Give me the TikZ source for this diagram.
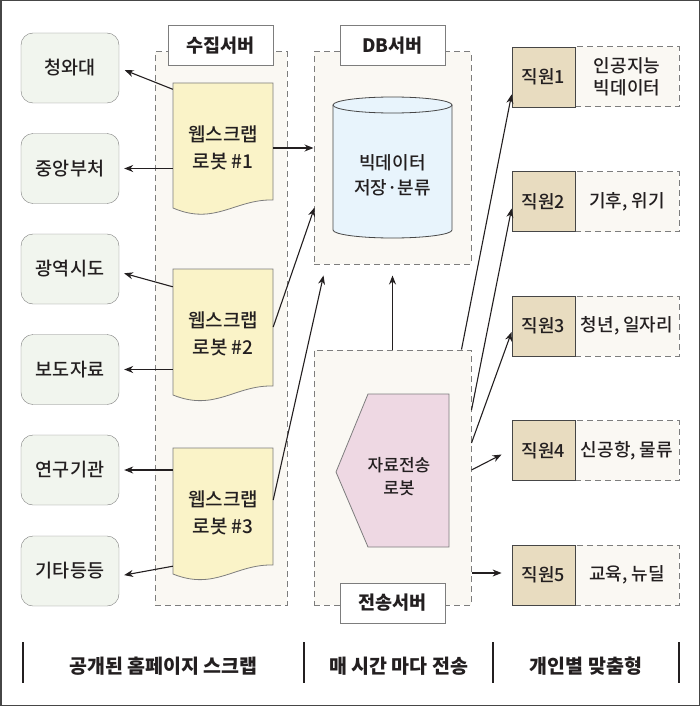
\documentclass[tikz,border=0pt]{standalone}
\usepackage{fontspec}
\setmainfont{Noto Sans CJK KR}[UprightFont={* Medium}, BoldFont={* Black}]
\usetikzlibrary{calc}
\usetikzlibrary{arrows.meta}
\usetikzlibrary{positioning}
\definecolor{framegray}{RGB}{70, 70, 70}
\definecolor{boxgray}{RGB}{125, 125, 125}
\definecolor{inkblack}{RGB}{35, 31, 32}
\definecolor{sitegreen}{RGB}{241, 245, 238}
\definecolor{paperyellow}{RGB}{250, 243, 200}
\definecolor{servercream}{RGB}{250, 248, 243}
\definecolor{dbblue}{RGB}{232, 244, 252}
\definecolor{botpink}{RGB}{238, 216, 227}
\definecolor{stafftan}{RGB}{232, 220, 192}
\tikzset{
  site/.style={draw=boxgray, fill=sitegreen, rounded corners=12pt, minimum width=98pt,
               minimum height=70pt, text=inkblack, font=\fontsize{18.5pt}{22pt}\selectfont},
  server/.style={draw=boxgray, line width=1pt, dash pattern=on 6pt off 4pt, fill=servercream},
  tag/.style={draw=boxgray, line width=1pt, fill=white, minimum width=105pt, minimum height=40pt,
              text=inkblack, font=\bfseries\fontsize{18.5pt}{22pt}\selectfont},
  paper/.style={draw=boxgray, fill=paperyellow, line width=0.8pt},
  robot/.style={minimum width=100pt, minimum height=117pt, inner sep=0pt, align=center,
                text=inkblack, font=\fontsize{19pt}{27pt}\selectfont},
  staff/.style={draw=framegray, fill=stafftan, line width=0.8pt, minimum width=63pt,
                minimum height=60pt, text=inkblack, font=\fontsize{18pt}{22pt}\selectfont},
  topic/.style={draw=boxgray, line width=1pt, dash pattern=on 6pt off 4pt, fill=servercream,
                minimum width=104pt, minimum height=60pt, align=center, text=inkblack,
                font=\fontsize{18pt}{22pt}\selectfont},
  link/.style={draw=inkblack, line width=1.1pt, -{Stealth[length=9pt, width=7pt]}},
  caption/.style={text=inkblack, font=\bfseries\fontsize{19.5pt}{22pt}\selectfont},
  sep/.style={draw=inkblack, line width=1.8pt}
}

\begin{document}
\begin{tikzpicture}[x=1pt, y=-1pt]
            % Frame to fix the page
            \useasboundingbox                                                 (0, 0) rectangle (700, 706);
            \draw[framegray, line width=1.5pt]                                (0.75, 0.75) rectangle (699.25, 705.25);
            % Servers
            \node[server, minimum width=132pt, minimum height=553pt] (collect) at (221.0, 328.5) {};
            \node[server, minimum width=157pt, minimum height=212pt] (dbsrv)   at (392.5, 158.0) {};
            \node[server, minimum width=157pt, minimum height=255pt] (sendsrv) at (392.5, 477.5) {};
            \node[tag] (collecttag) at (220.5,  46.0) {수집서버};
            \node[tag] (dbtag)      at (392.5,  46.0) {DB서버};
            \node[tag] (sendtag)    at (392.5, 603.0) {전송서버};
            % Public homepages
            \node[site] (cheong)  at (70,  68.0) {청와대};
            \node[site] (jungang) at (70, 168.5) {중앙부처};
            \node[site] (gwang)   at (70, 269.0) {광역시도};
            \node[site] (bodo)    at (70, 369.5) {보도자료};
            \node[site] (yeongu)  at (70, 470.0) {연구기관};
            \node[site] (gita)    at (70, 571.0) {기타등등};
            % Scrap robots
            \filldraw[paper] (173,  83) -- (273,  83) -- (273, 200) .. controls (235, 199) and (215, 226) .. (173, 208) -- cycle;
            \filldraw[paper] (173, 269) -- (273, 269) -- (273, 386) .. controls (235, 385) and (215, 412) .. (173, 395) -- cycle;
            \filldraw[paper] (173, 448) -- (273, 448) -- (273, 565) .. controls (235, 564) and (215, 591) .. (173, 574) -- cycle;
            \node[robot] (robot1) at (223, 148) {웹스크랩\\로봇 \#1};
            \node[robot] (robot2) at (223, 334) {웹스크랩\\로봇 \#2};
            \node[robot] (robot3) at (223, 513) {웹스크랩\\로봇 \#3};
            % Big data cylinder
            \filldraw[draw=framegray, fill=dbblue, line width=0.8pt]
                 (333, 105) -- (333, 230) arc[start angle=180, end angle=360, x radius=59.5pt, y radius=8pt] -- (452, 105);
            \filldraw[draw=framegray, fill=dbblue, line width=0.8pt]          (392.5, 105) ellipse [x radius=59.5pt, y radius=8pt];
            \node[align=center, text=inkblack, font=\fontsize{18pt}{25pt}\selectfont] (bigdata) at (392.5, 175.5) {빅데이터\\저장·분류};
            % Sending robot
            \filldraw[draw=boxgray, fill=botpink, line width=0.8pt]
                 (368, 394) -- (449, 394) -- (449, 547) -- (368, 547) -- (336, 472) -- cycle;
            \node[align=center, text=inkblack, font=\fontsize{17pt}{23pt}\selectfont] (sendbot) at (399, 476.5) {자료전송\\로봇};
            % Staff
            \node[topic] (topic1) at (627,  77.0) {인공지능\\빅데이터};
            \node[topic] (topic2) at (627, 201.5) {기후, 위기};
            \node[topic] (topic3) at (627, 326.0) {청년, 일자리};
            \node[topic] (topic4) at (627, 450.5) {신공항, 물류};
            \node[topic] (topic5) at (627, 575.0) {교육, 뉴딜};
            \node[staff] (staff1) at (543.5,  77.0) {직원1};
            \node[staff] (staff2) at (543.5, 201.5) {직원2};
            \node[staff] (staff3) at (543.5, 326.0) {직원3};
            \node[staff] (staff4) at (543.5, 450.5) {직원4};
            \node[staff] (staff5) at (543.5, 575.0) {직원5};
            % Robots -> homepages
            \draw[link, shorten >=6pt] (robot1.north west)                      -- (cheong.east);
            \draw[link, shorten >=5pt] (robot1.west |- jungang.east)            -- (jungang.east);
            \draw[link, shorten >=5pt] ($(robot2.north west)+(0, 11.5)$)        -- ($(gwang.east)+(0, 3)$);
            \draw[link, shorten >=5pt] (robot2.west |- bodo.east)               -- (bodo.east);
            \draw[link, shorten >=5pt] (robot3.west |- yeongu.east)             -- (yeongu.east);
            \draw[link, shorten >=5pt] ($(robot3.south west)+(0, -5.5)$)        -- ($(gita.east)+(0, 5)$);
            % Robots -> DB server
            \draw[link] (robot1.east)                                           -- (robot1.east -| dbsrv.west);
            \draw[link] ($(robot2.east)+(0, -7)$)                               -- ($(dbsrv.south west)+(1, -57)$);
            \draw[link] ($(robot3.east)+(0, -13)$)                              -- ($(dbsrv.south west)+(10, 11)$);
            \draw[link] (sendsrv.north)                                         -- ($(dbsrv.south)+(0, 11)$);
            % Sending server -> staff
            \draw[link] ($(sendsrv.north east)+(-10, 0)$)                       -- ($(staff1.south west)+(0, -13)$);
            \draw[link] ($(sendsrv.east)+(0, -67.5)$)                           -- ($(staff2.west)+(0, 7)$);
            \draw[link] ($(sendsrv.east)+(0, -34.5)$)                           -- ($(staff3.west)+(0, 6)$);
            \draw[link] ($(sendsrv.east)+(0, -7.5)$)                            -- ($(staff4.west)+(-10, 4)$);
            \draw[link] ($(sendsrv.east)+(0, 95.5)$)                            -- ($(staff5.west)+(-10, -2)$);
            % Captions
            \draw[sep] (23, 642) -- (23, 683);
            \draw[sep] (304, 642) -- (304, 683);
            \draw[sep] (493, 642) -- (493, 683);
            \draw[sep] (679, 642) -- (679, 683);
            \node[caption] (scrapcap) at (163.5, 666) {공개된 홈페이지 스크랩};
            \node[caption] (sendcap)  at (398.5, 666) {매 시간 마다 전송};
            \node[caption] (staffcap) at (586.0, 666) {개인별 맞춤형};
\end{tikzpicture}
\end{document}
